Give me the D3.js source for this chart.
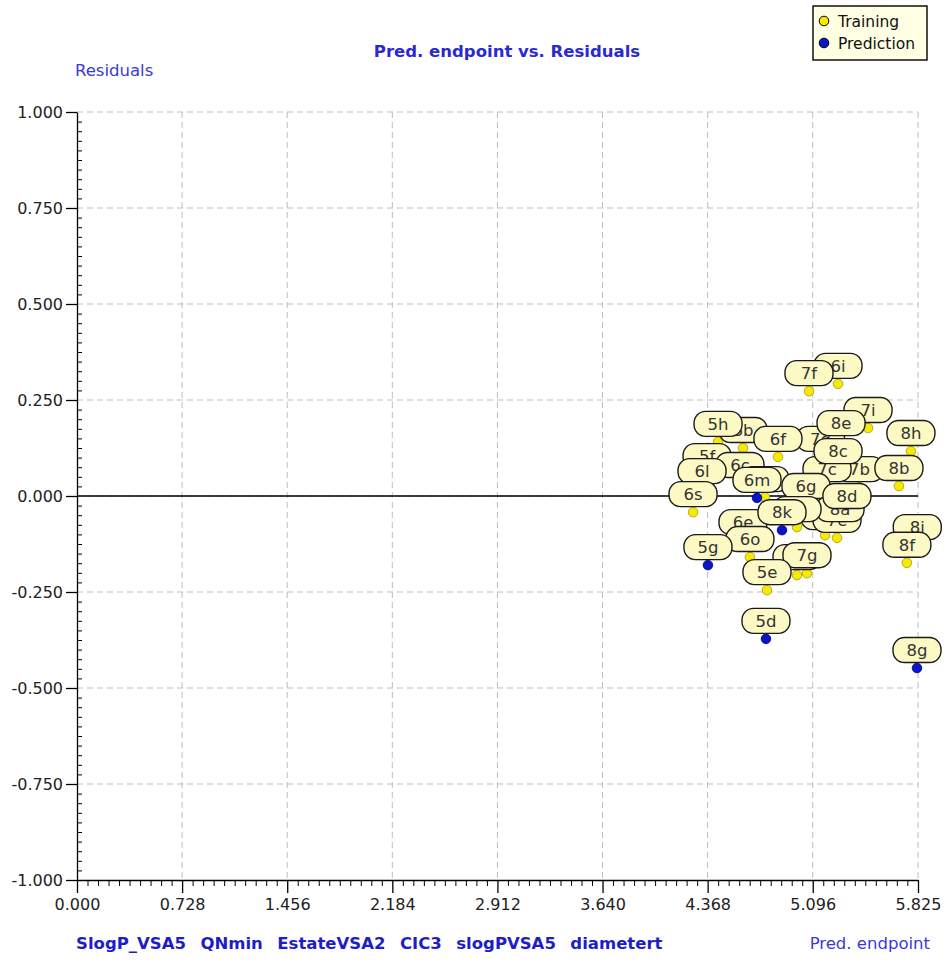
<!DOCTYPE html>
<html>
<head>
<meta charset="utf-8">
<script src="https://cdn.jsdelivr.net/npm/d3@7"></script>
<style>
  html, body { margin: 0; padding: 0; background: #ffffff; }
  svg { display: block; }
  text { font-family: "DejaVu Sans", Verdana, sans-serif; }
</style>
</head>
<body>
<svg id="chart" width="946" height="963"></svg>
<script>
// Compound labels, predicted endpoint (x) and residuals (y), in drawing order
const labels = ["6i","7f","7i","7d","7b","7c","8e","8c","8h","8b","6b","5h","6f","5f","6c","6l","6s","6k","6g","6m",
                "6h","7e","8a","8d","6j","6e","8k","6o","5g","7h","7g","5e","5d","8i","8f","8g"];
const predEndpoint = [5.271,5.070,5.479,5.150,5.420,5.195,5.292,5.271,5.776,5.693,4.613,4.440,4.855,4.364,4.592,4.329,4.267,4.765,5.049,4.710,
                      5.181,5.264,5.285,5.333,4.987,4.613,4.883,4.661,4.370,4.987,5.056,4.779,4.772,5.820,5.748,5.818];
const residuals = [0.292,0.273,0.177,0.102,0.023,0.023,0.143,0.070,0.117,0.026,0.125,0.141,0.102,0.057,0.034,0.018,-0.042,-0.003,-0.021,-0.005,
                   -0.102,-0.109,-0.081,-0.047,-0.081,-0.115,-0.089,-0.159,-0.180,-0.206,-0.201,-0.245,-0.372,-0.128,-0.174,-0.448];
const setType = ["T","T","T","T","T","T","T","T","T","T","T","T","T","T","T","T","T","T","T","P",
                 "T","T","T","T","T","T","P","T","P","T","T","T","P","T","T","P"];

// Axis ticks
const xTickValues = [0.000,0.728,1.456,2.184,2.912,3.640,4.368,5.096,5.825];
const xTickLabels = ["0.000","0.728","1.456","2.184","2.912","3.640","4.368","5.096","5.825"];
const yTickValues = [1.0,0.75,0.5,0.25,0.0,-0.25,-0.5,-0.75,-1.0];
const yTickLabels = ["1.000","0.750","0.500","0.250","0.000","-0.250","-0.500","-0.750","-1.000"];

const descriptors = ["SlogP_VSA5","QNmin","EstateVSA2","CIC3","slogPVSA5","diametert"];
const legendNames = ["Training","Prediction"];

const svg = d3.select("#chart");
const plotLeft = 77, plotRight = 918, plotTop = 112, plotBottom = 880;

const x = d3.scaleLinear().domain([0, 5.825]).range([plotLeft, plotRight]);
const y = d3.scaleLinear().domain([-1, 1]).range([plotBottom, plotTop]);

const yellowFill = "#f6ea00", yellowStroke = "#a89a00";
const blueFill = "#0a14c8", blueStroke = "#000070";

// Dashed grid
const grid = svg.append("g");
grid.selectAll("line.gx").data(xTickValues.slice(1)).join("line")
  .attr("x1", d => x(d)).attr("x2", d => x(d))
  .attr("y1", plotTop).attr("y2", plotBottom)
  .attr("stroke", "#bdbdbd").attr("stroke-width", 1).attr("stroke-dasharray", "6,4");
grid.selectAll("line.gy").data(yTickValues.slice(0, -1)).join("line")
  .attr("x1", plotLeft).attr("x2", plotRight)
  .attr("y1", d => y(d)).attr("y2", d => y(d))
  .attr("stroke", "#bdbdbd").attr("stroke-width", 1).attr("stroke-dasharray", "6,4");

// Zero residual line
svg.append("line")
  .attr("x1", plotLeft).attr("x2", plotRight)
  .attr("y1", y(0)).attr("y2", y(0))
  .attr("stroke", "#000").attr("stroke-width", 1.3);

// Minor ticks
const yMinor = d3.range(-1, 1.0001, 0.025).filter(v => Math.abs(Math.round(v * 4) - v * 4) > 1e-6);
const xMinor = d3.range(0, 5.8251, 0.0728).filter(v => Math.abs(Math.round(v / 0.728) - v / 0.728) > 1e-6);

svg.append("g").attr("transform", `translate(${plotLeft},0)`)
  .call(d3.axisRight(y).tickValues(yMinor).tickSize(5).tickFormat("").tickSizeOuter(0))
  .call(g => g.select(".domain").remove())
  .selectAll("line").attr("stroke", "#000");

svg.append("g").attr("transform", `translate(0,${plotBottom})`)
  .call(d3.axisBottom(x).tickValues(xMinor).tickSize(6).tickFormat("").tickSizeOuter(0))
  .call(g => g.select(".domain").remove())
  .selectAll("line").attr("stroke", "#000");

// Major axes
const yAxis = svg.append("g").attr("transform", `translate(${plotLeft},0)`)
  .call(d3.axisLeft(y).tickValues(yTickValues).tickSize(11).tickPadding(3).tickSizeOuter(0)
        .tickFormat((d, i) => yTickLabels[i]));
yAxis.select(".domain").attr("stroke", "#000").attr("stroke-width", 1.3);
yAxis.selectAll("line").attr("stroke", "#000").attr("stroke-width", 1.3);
yAxis.selectAll("text").attr("font-size", 16).attr("fill", "#222").attr("font-family", "DejaVu Sans");

const xAxis = svg.append("g").attr("transform", `translate(0,${plotBottom})`)
  .call(d3.axisBottom(x).tickValues(xTickValues).tickSize(13).tickPadding(6).tickSizeOuter(0)
        .tickFormat((d, i) => xTickLabels[i]));
xAxis.select(".domain").attr("stroke", "#000").attr("stroke-width", 1.3);
xAxis.selectAll("line").attr("stroke", "#000").attr("stroke-width", 1.3);
xAxis.selectAll("text").attr("font-size", 16).attr("fill", "#222").attr("font-family", "DejaVu Sans");

// Titles
svg.append("text").attr("x", 507).attr("y", 57).attr("text-anchor", "middle")
  .attr("font-size", 16.5).attr("font-weight", "bold").attr("fill", "#2a2ad2")
  .text("Pred. endpoint vs. Residuals");
svg.append("text").attr("x", 75).attr("y", 76)
  .attr("font-size", 16.5).attr("fill", "#3a3ad6")
  .text("Residuals");
svg.append("text").attr("x", 76).attr("y", 949).attr("xml:space", "preserve")
  .style("white-space", "pre").style("word-spacing", "1.5px")
  .attr("font-size", 16.5).attr("font-weight", "bold").attr("fill", "#1e1ec8")
  .text(descriptors.join("  "));
svg.append("text").attr("x", 930).attr("y", 949).attr("text-anchor", "end")
  .attr("font-size", 16.5).attr("fill", "#3a3ad6")
  .text("Pred. endpoint");

// Points
const pts = labels.map((l, i) => ({ label: l, px: predEndpoint[i], res: residuals[i], set: setType[i] }));

svg.append("g").selectAll("circle").data(pts).join("circle")
  .attr("cx", d => x(d.px)).attr("cy", d => y(d.res)).attr("r", 4.8)
  .attr("fill", d => d.set === "P" ? blueFill : yellowFill)
  .attr("stroke", d => d.set === "P" ? blueStroke : yellowStroke)
  .attr("stroke-width", 0.8);

// Label balloons above each point
const balloon = svg.append("g").selectAll("g").data(pts).join("g")
  .attr("transform", d => `translate(${x(d.px)},${y(d.res) - 18})`);
balloon.append("rect")
  .attr("x", -24).attr("y", -12.5).attr("width", 48).attr("height", 25)
  .attr("rx", 11.5).attr("ry", 11.5)
  .attr("fill", "#fcf9c4").attr("stroke", "#1a1a1a").attr("stroke-width", 1.4);
balloon.append("text")
  .attr("text-anchor", "middle").attr("dy", "0.36em")
  .attr("font-size", 16.5).attr("fill", "#333")
  .text(d => d.label);

// Legend
const legend = svg.append("g").attr("transform", "translate(813,6)");
legend.append("rect").attr("width", 114).attr("height", 54)
  .attr("fill", "#ffffe4").attr("stroke", "#000").attr("stroke-width", 1.4);
legend.selectAll("circle").data(legendNames).join("circle")
  .attr("cx", 11).attr("cy", (d, i) => 15 + i * 22).attr("r", 4.8)
  .attr("fill", (d, i) => i === 0 ? yellowFill : blueFill)
  .attr("stroke", "#000").attr("stroke-width", 1);
legend.selectAll("text").data(legendNames).join("text")
  .attr("x", 25).attr("y", (d, i) => 15 + i * 22).attr("dy", "0.36em")
  .attr("font-size", 15.5).attr("fill", "#111")
  .text(d => d);
</script>
</body>
</html>
